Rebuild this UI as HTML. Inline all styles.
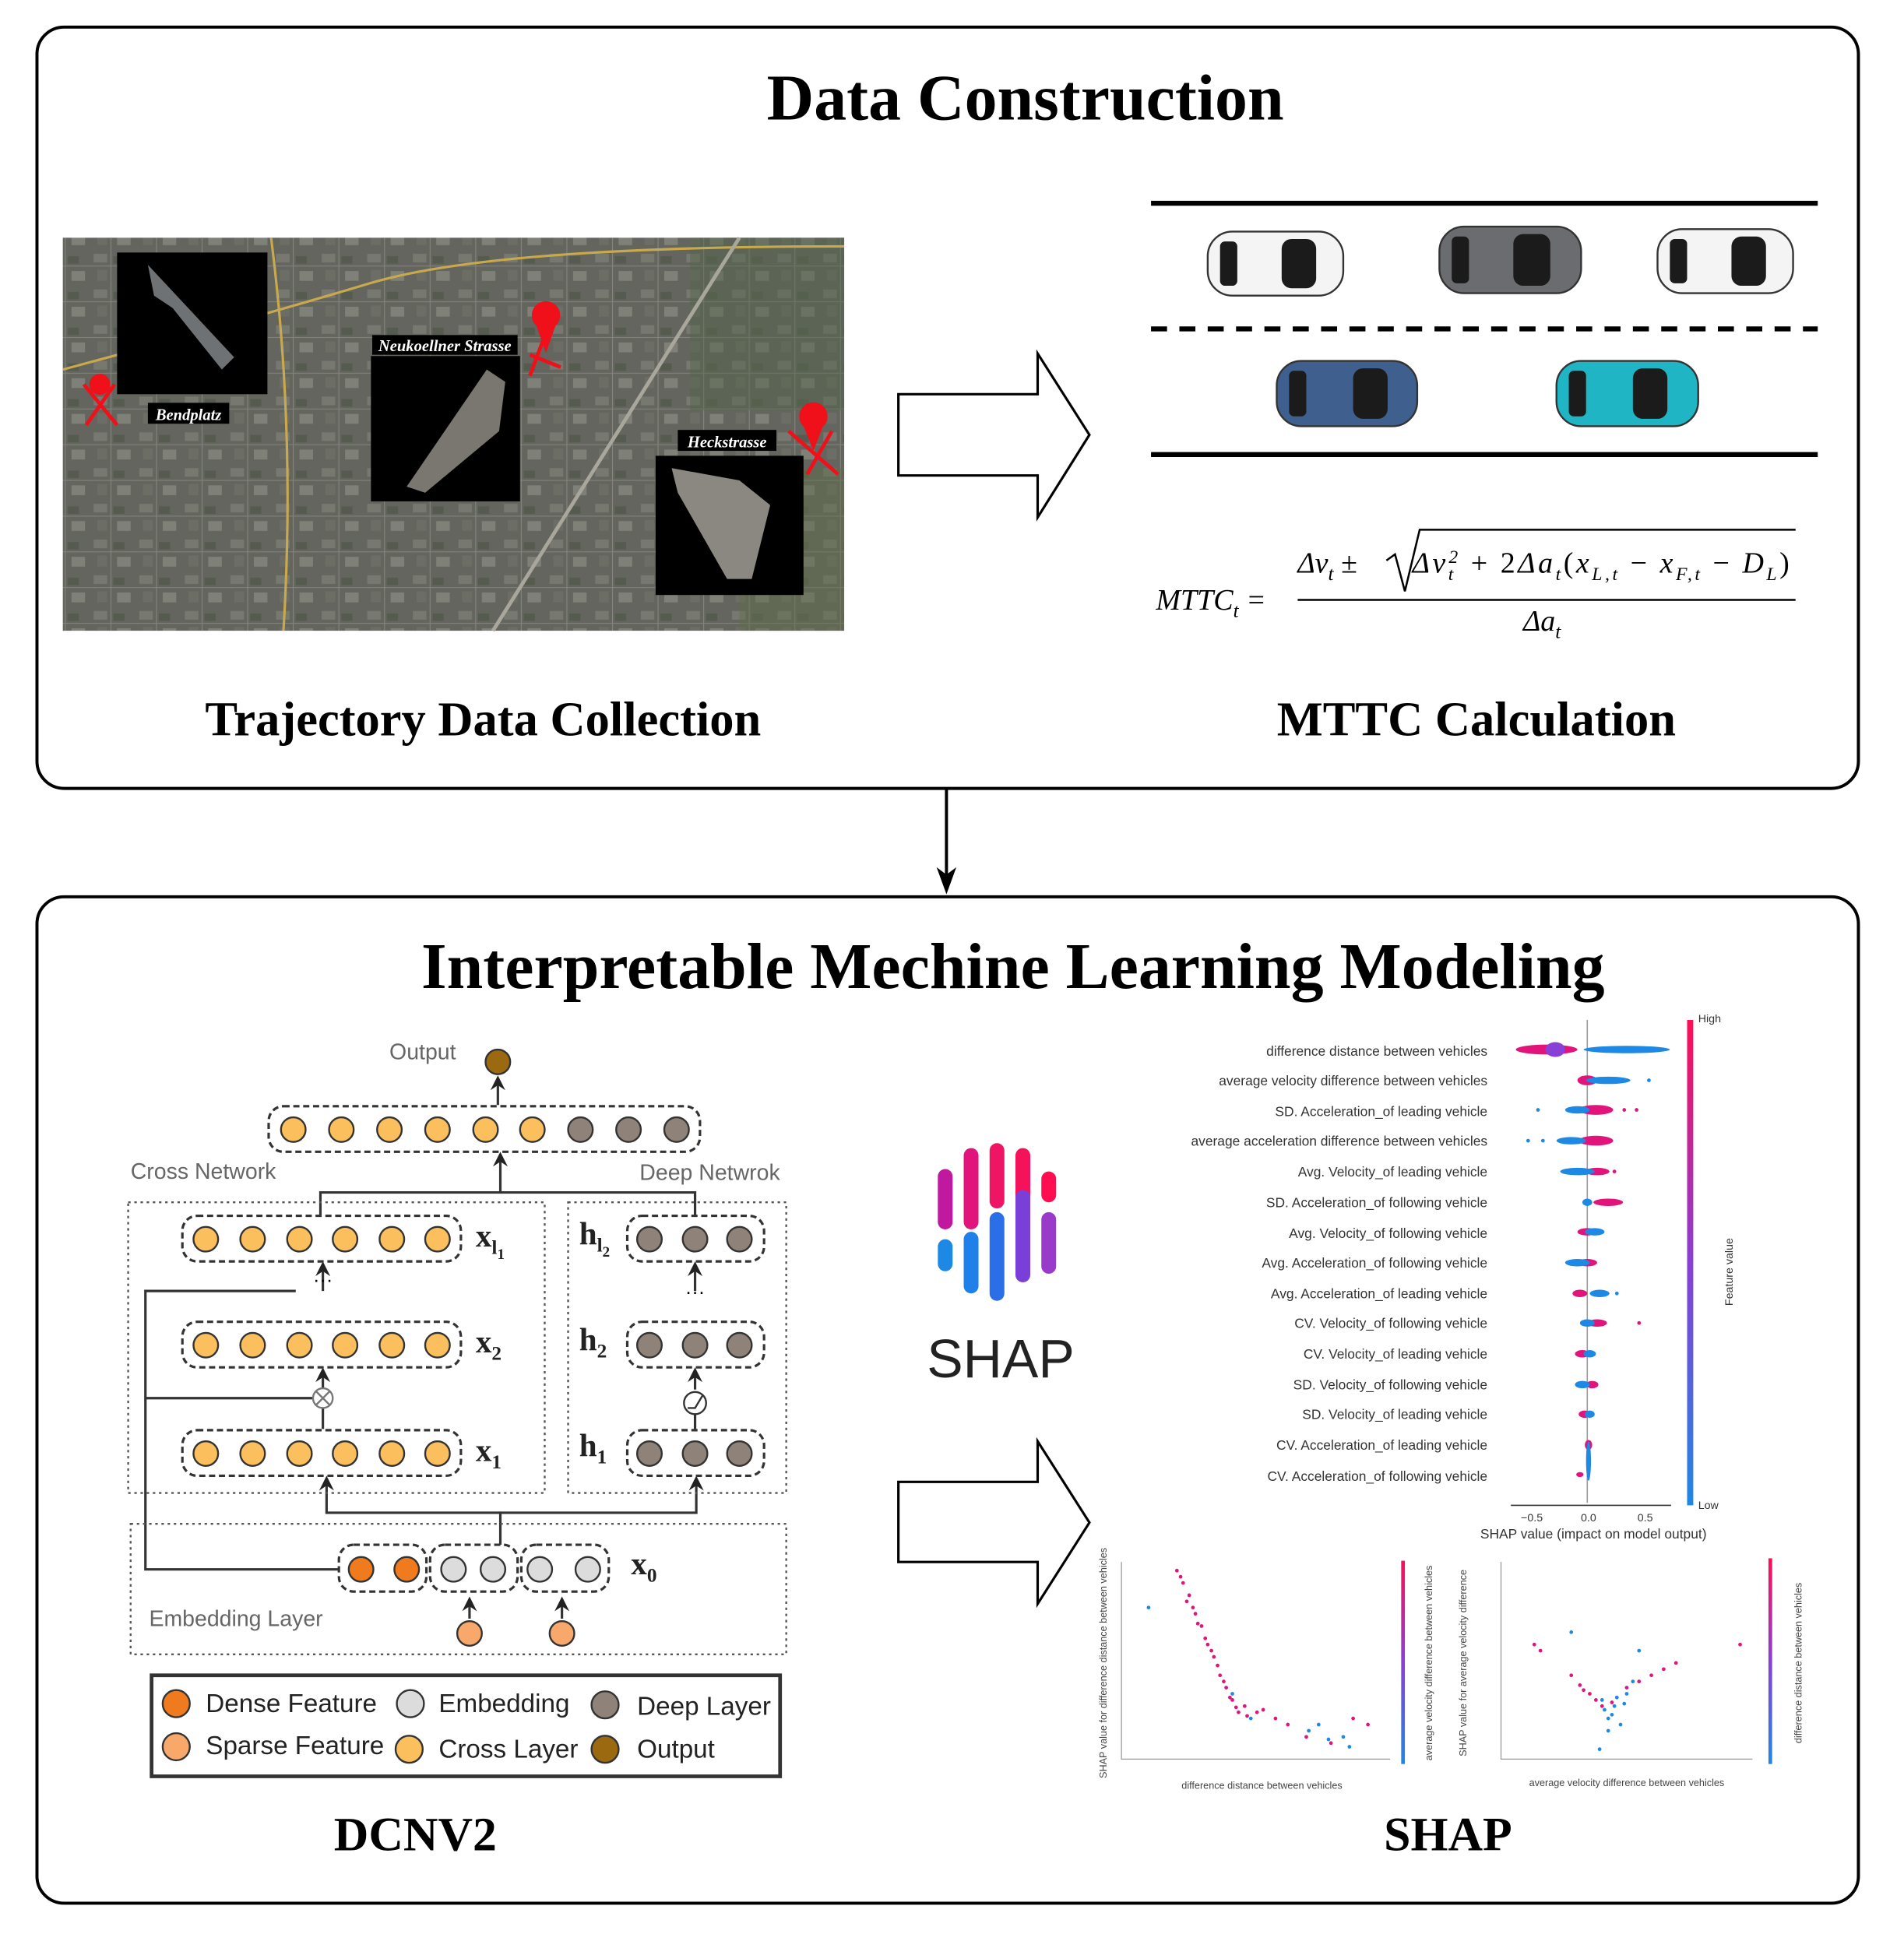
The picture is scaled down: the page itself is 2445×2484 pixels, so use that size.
<!DOCTYPE html>
<html><head><meta charset="utf-8"><style>
html,body{margin:0;padding:0;background:#fff}
svg{display:block}
.t{font-family:"Liberation Serif",serif;font-weight:bold}
.s{font-family:"Liberation Sans",sans-serif}
.m{font-family:"Liberation Serif",serif;font-style:italic}
</style></head><body>
<svg width="2445" height="2484" viewBox="0 0 1545 1570" preserveAspectRatio="none" xmlns="http://www.w3.org/2000/svg">
<defs>
<linearGradient id="cb" x1="0" y1="0" x2="0" y2="1"><stop offset="0" stop-color="#ff0d57"/><stop offset="0.5" stop-color="#8a3fd6"/><stop offset="1" stop-color="#1e88e5"/></linearGradient>
<pattern id="city" width="37" height="29" patternUnits="userSpaceOnUse">
<rect width="37" height="29" fill="#5f625b"/>
<rect x="2" y="3" width="11" height="7" fill="#7a7c75"/><rect x="18" y="5" width="9" height="6" fill="#4d5447"/>
<rect x="5" y="16" width="8" height="9" fill="#6b6e64"/><rect x="21" y="17" width="11" height="8" fill="#85877f"/>
<path d="M0 13H37M16 0V29" stroke="#8d8d86" stroke-width="0.7"/>
</pattern>
<marker id="sa" markerWidth="6" markerHeight="6" refX="5" refY="3" orient="auto"><path d="M0,0 L6,3 L0,6 L2,3Z" fill="#222"/></marker>
</defs>

<!-- TOP BOX -->
<rect x="30" y="22" width="1478" height="618" rx="22" fill="none" stroke="#000" stroke-width="2.5"/>
<text x="832" y="97" text-anchor="middle" class="t" font-size="53">Data Construction</text>

<!-- map -->
<rect x="51" y="193" width="634" height="319" fill="url(#city)"/>
<rect x="560" y="193" width="125" height="140" fill="#4d6243" opacity="0.5"/>
<rect x="600" y="380" width="85" height="132" fill="#5c6b43" opacity="0.5"/>
<rect x="51" y="193" width="634" height="319" fill="#707068" opacity="0.25"/>
<path d="M51 300 Q200 260 300 230 T685 200" stroke="#c9a94d" stroke-width="2" fill="none"/>
<path d="M220 193 Q240 350 230 512" stroke="#c9a94d" stroke-width="2" fill="none"/>
<path d="M400 512 L600 193" stroke="#a9a69c" stroke-width="3" fill="none"/>
<rect x="95" y="205" width="122" height="115" fill="#000"/>
<path d="M120 215 L190 290 L180 300 L140 250 L125 240Z" fill="#6f7275"/>
<rect x="301" y="289" width="121" height="118" fill="#000"/>
<path d="M330 395 L395 300 L410 310 L405 350 L345 400Z" fill="#7a7770"/>
<rect x="532" y="370" width="120" height="113" fill="#000"/>
<path d="M545 380 L600 390 L625 410 L610 470 L590 470 L550 400Z" fill="#8a8880"/>
<rect x="302" y="272" width="118" height="16" fill="#000"/><text x="361" y="285" text-anchor="middle" class="m" fill="#fff" font-size="13" font-weight="bold">Neukoellner Strasse</text>
<rect x="120" y="327" width="66" height="17" fill="#000"/><text x="153" y="341" text-anchor="middle" class="m" fill="#fff" font-size="13" font-weight="bold">Bendplatz</text>
<rect x="550" y="349" width="80" height="17" fill="#000"/><text x="590" y="363" text-anchor="middle" class="m" fill="#fff" font-size="13" font-weight="bold">Heckstrasse</text>
<g fill="#f0101a" stroke="#f0101a" stroke-width="3">
<circle cx="443" cy="256" r="10"/><path d="M436 262 L443 282 L450 262Z"/><path d="M443 270 L430 305 M430 288 L455 298" fill="none"/>
<circle cx="660" cy="338" r="10"/><path d="M653 344 L660 362 L667 344Z"/><path d="M640 350 L680 385 M675 350 L655 385" fill="none"/>
<circle cx="81" cy="312" r="7"/><path d="M68 312 L95 345 M93 312 L70 345" fill="none"/>
</g>

<path d="M729 320 H842 V287 L884 353 L842 420 V386 H729Z" fill="#fff" stroke="#000" stroke-width="2"/>

<!-- road -->
<line x1="934" y1="165" x2="1475" y2="165" stroke="#000" stroke-width="4"/>
<line x1="934" y1="267" x2="1475" y2="267" stroke="#000" stroke-width="4" stroke-dasharray="13 10"/>
<line x1="934" y1="369" x2="1475" y2="369" stroke="#000" stroke-width="4"/>
<g stroke="#333" stroke-width="1.5">
<rect x="980" y="188" width="110" height="52" rx="20" fill="#f4f4f4"/>
<rect x="1168" y="184" width="115" height="54" rx="20" fill="#6a6c70"/>
<rect x="1345" y="186" width="110" height="52" rx="20" fill="#f4f4f4"/>
<rect x="1036" y="293" width="114" height="53" rx="20" fill="#3f5f8f"/>
<rect x="1263" y="293" width="115" height="53" rx="20" fill="#1fb5c4"/>
</g>
<g fill="#1b1b1b">
<rect x="990" y="196" width="14" height="36" rx="4"/><rect x="1040" y="194" width="28" height="40" rx="8"/>
<rect x="1178" y="192" width="14" height="38" rx="4"/><rect x="1228" y="190" width="30" height="42" rx="8"/>
<rect x="1355" y="194" width="14" height="36" rx="4"/><rect x="1405" y="192" width="28" height="40" rx="8"/>
<rect x="1046" y="301" width="14" height="37" rx="4"/><rect x="1098" y="299" width="28" height="41" rx="8"/>
<rect x="1273" y="301" width="14" height="37" rx="4"/><rect x="1325" y="299" width="28" height="41" rx="8"/>
</g>

<!-- formula -->
<text x="938" y="495" class="m" font-size="24">MTTC<tspan font-size="16" dy="6">t</tspan><tspan dy="-6"> =</tspan></text>
<text x="1053" y="465" class="m" font-size="24">Δv<tspan font-size="16" dy="6">t</tspan><tspan dy="-6" font-style="normal">  ±</tspan></text>
<path d="M1125 455 L1132 450 L1140 480 L1152 430 H1457" fill="none" stroke="#000" stroke-width="1.6"/>
<text x="1146" y="465" class="m" font-size="24" textLength="306">Δv<tspan font-size="15" dy="6">t</tspan><tspan font-size="15" dy="-14" dx="-6">2</tspan><tspan dy="8" font-style="normal"> + 2</tspan>Δa<tspan font-size="15" dy="6">t</tspan><tspan dy="-6" font-style="normal">(</tspan>x<tspan font-size="15" dy="6">L,t</tspan><tspan dy="-6" font-style="normal"> − </tspan>x<tspan font-size="15" dy="6">F,t</tspan><tspan dy="-6" font-style="normal"> − </tspan>D<tspan font-size="15" dy="6">L</tspan><tspan dy="-6" font-style="normal">)</tspan></text>
<line x1="1053" y1="487" x2="1457" y2="487" stroke="#000" stroke-width="1.6"/>
<text x="1236" y="512" class="m" font-size="24">Δa<tspan font-size="16" dy="6">t</tspan></text>

<text x="392" y="597" text-anchor="middle" class="t" font-size="39.5">Trajectory Data Collection</text>
<text x="1198" y="597" text-anchor="middle" class="t" font-size="39.5">MTTC Calculation</text>

<line x1="768" y1="640" x2="768" y2="712" stroke="#000" stroke-width="2.5"/>
<path d="M760 704 L768 726 L776 704 L768 710Z" fill="#000"/>

<!-- BOTTOM BOX -->
<rect x="30" y="728" width="1478" height="817" rx="22" fill="none" stroke="#000" stroke-width="2.5"/>
<text x="822" y="802" text-anchor="middle" class="t" font-size="53">Interpretable Mechine Learning Modeling</text>

<!-- DCN -->
<g class="s" fill="#666" font-size="18">
<text x="343" y="860" text-anchor="middle">Output</text>
<text x="106" y="957">Cross Network</text>
<text x="633" y="958" text-anchor="end">Deep Netwrok</text>
<text x="121" y="1320">Embedding Layer</text>
</g>
<circle cx="404" cy="862" r="10" fill="#9b6a10" stroke="#333" stroke-width="1.5"/>
<g stroke="#333" stroke-width="2" fill="none">
<line x1="404" y1="897" x2="404" y2="875" marker-end="url(#sa)"/>
<line x1="406" y1="968" x2="406" y2="937" marker-end="url(#sa)"/>
<path d="M260 987 V968 H564 V987"/>
<path d="M240 1048 H118 V1274 H275"/>
<path d="M118 1135 H255"/>
<line x1="262" y1="1048" x2="262" y2="1026" marker-end="url(#sa)"/>
<line x1="262" y1="1128" x2="262" y2="1112" marker-end="url(#sa)"/>
<line x1="262" y1="1143" x2="262" y2="1160"/>
<line x1="564" y1="1048" x2="564" y2="1026" marker-end="url(#sa)"/>
<line x1="564" y1="1128" x2="564" y2="1112" marker-end="url(#sa)"/>
<line x1="564" y1="1148" x2="564" y2="1160"/>
<path d="M406 1254 V1228 H565 V1200" marker-end="url(#sa)"/>
<path d="M406 1228 H265 V1200" marker-end="url(#sa)"/>
<line x1="381" y1="1314" x2="381" y2="1298" marker-end="url(#sa)"/>
<line x1="456" y1="1314" x2="456" y2="1298" marker-end="url(#sa)"/>
</g>
<text x="262" y="1044" text-anchor="middle" font-size="16" class="s">···</text>
<text x="564" y="1054" text-anchor="middle" font-size="16" class="s">···</text>
<circle cx="262" cy="1135" r="8" fill="#fff" stroke="#777" stroke-width="1.5"/>
<path d="M256 1129 L268 1141 M268 1129 L256 1141" stroke="#777" stroke-width="1.5"/>
<circle cx="564" cy="1139" r="9" fill="#fff" stroke="#333" stroke-width="1.5"/>
<path d="M558 1143 L564 1143 L570 1133" stroke="#333" fill="none" stroke-width="1.5"/>
<g fill="none" stroke="#555" stroke-width="1.5" stroke-dasharray="2 3">
<rect x="104" y="976" width="338" height="236"/>
<rect x="461" y="976" width="177" height="236"/>
<rect x="106" y="1237" width="532" height="106"/>
</g>
<g fill="none" stroke="#333" stroke-width="2" stroke-dasharray="5 3">
<rect x="218" y="898" width="350" height="37" rx="12"/>
<rect x="148" y="987" width="226" height="37" rx="12"/>
<rect x="148" y="1073" width="226" height="37" rx="12"/>
<rect x="148" y="1161" width="226" height="37" rx="12"/>
<rect x="509" y="987" width="111" height="37" rx="12"/>
<rect x="509" y="1073" width="111" height="37" rx="12"/>
<rect x="509" y="1161" width="111" height="37" rx="12"/>
<rect x="275" y="1254" width="71" height="38" rx="12"/>
<rect x="349" y="1254" width="71" height="38" rx="12"/>
<rect x="423" y="1254" width="71" height="38" rx="12"/>
</g>
<g stroke="#333" stroke-width="1.5">
<g fill="#fbbf5d">
<circle cx="238" cy="917" r="10"/><circle cx="277" cy="917" r="10"/><circle cx="316" cy="917" r="10"/><circle cx="355" cy="917" r="10"/><circle cx="394" cy="917" r="10"/><circle cx="432" cy="917" r="10"/>
<circle cx="167" cy="1006" r="10"/><circle cx="205" cy="1006" r="10"/><circle cx="243" cy="1006" r="10"/><circle cx="280" cy="1006" r="10"/><circle cx="318" cy="1006" r="10"/><circle cx="355" cy="1006" r="10"/>
<circle cx="167" cy="1092" r="10"/><circle cx="205" cy="1092" r="10"/><circle cx="243" cy="1092" r="10"/><circle cx="280" cy="1092" r="10"/><circle cx="318" cy="1092" r="10"/><circle cx="355" cy="1092" r="10"/>
<circle cx="167" cy="1180" r="10"/><circle cx="205" cy="1180" r="10"/><circle cx="243" cy="1180" r="10"/><circle cx="280" cy="1180" r="10"/><circle cx="318" cy="1180" r="10"/><circle cx="355" cy="1180" r="10"/>
</g>
<g fill="#8f8278">
<circle cx="471" cy="917" r="10"/><circle cx="510" cy="917" r="10"/><circle cx="549" cy="917" r="10"/>
<circle cx="527" cy="1006" r="10"/><circle cx="564" cy="1006" r="10"/><circle cx="600" cy="1006" r="10"/>
<circle cx="527" cy="1092" r="10"/><circle cx="564" cy="1092" r="10"/><circle cx="600" cy="1092" r="10"/>
<circle cx="527" cy="1180" r="10"/><circle cx="564" cy="1180" r="10"/><circle cx="600" cy="1180" r="10"/>
</g>
<circle cx="293" cy="1274" r="10" fill="#f07b1e"/><circle cx="330" cy="1274" r="10" fill="#f07b1e"/>
<g fill="#dcdcdc"><circle cx="368" cy="1274" r="10"/><circle cx="400" cy="1274" r="10"/><circle cx="438" cy="1274" r="10"/><circle cx="477" cy="1274" r="10"/></g>
<circle cx="381" cy="1326" r="10" fill="#f7a86a"/><circle cx="456" cy="1326" r="10" fill="#f7a86a"/>
</g>
<g class="t" font-size="26" font-weight="bold" fill="#222">
<text x="386" y="1012">x<tspan font-size="16" dy="6">l</tspan><tspan font-size="12" dy="4">1</tspan></text>
<text x="386" y="1098">x<tspan font-size="16" dy="6">2</tspan></text>
<text x="386" y="1186">x<tspan font-size="16" dy="6">1</tspan></text>
<text x="470" y="1010">h<tspan font-size="16" dy="6">l</tspan><tspan font-size="12" dy="4">2</tspan></text>
<text x="470" y="1096">h<tspan font-size="16" dy="6">2</tspan></text>
<text x="470" y="1182">h<tspan font-size="16" dy="6">1</tspan></text>
<text x="512" y="1278">x<tspan font-size="16" dy="6">0</tspan></text>
</g>
<rect x="123" y="1360" width="510" height="82" fill="#fff" stroke="#333" stroke-width="3"/>
<g stroke="#333" stroke-width="1.5">
<circle cx="143" cy="1383" r="11" fill="#f07b1e"/><circle cx="143" cy="1418" r="11" fill="#f7a86a"/>
<circle cx="333" cy="1383" r="11" fill="#dcdcdc"/><circle cx="332" cy="1420" r="11" fill="#fbbf5d"/>
<circle cx="491" cy="1384" r="11" fill="#8f8278"/><circle cx="491" cy="1420" r="11" fill="#9b6a10"/>
</g>
<g class="s" font-size="21" fill="#222">
<text x="167" y="1390">Dense Feature</text><text x="167" y="1424">Sparse Feature</text>
<text x="356" y="1390">Embedding</text><text x="356" y="1427">Cross Layer</text>
<text x="517" y="1392">Deep Layer</text><text x="517" y="1427">Output</text>
</g>
<text x="337" y="1502" text-anchor="middle" class="t" font-size="39">DCNV2</text>

<!-- SHAP logo -->
<g stroke-linecap="round" stroke-width="12">
<line x1="767" y1="955" x2="767" y2="992" stroke="#c0189e"/>
<line x1="788" y1="938" x2="788" y2="992" stroke="#e0147a"/>
<line x1="809" y1="934" x2="809" y2="975" stroke="#ee1565"/>
<line x1="830" y1="938" x2="830" y2="972" stroke="#f5125a"/>
<line x1="851" y1="957" x2="851" y2="970" stroke="#ff0d50"/>
<line x1="767" y1="1012" x2="767" y2="1026" stroke="#1e88e5"/>
<line x1="788" y1="1006" x2="788" y2="1044" stroke="#1e80e8"/>
<line x1="809" y1="990" x2="809" y2="1050" stroke="#2a6ee8"/>
<line x1="830" y1="972" x2="830" y2="1035" stroke="#7a3fd8"/>
<line x1="851" y1="990" x2="851" y2="1028" stroke="#9a3acb"/>
</g>
<text x="812" y="1118" text-anchor="middle" class="s" font-size="44" fill="#222" font-weight="300">SHAP</text>

<path d="M729 1203 H842 V1170 L884 1236 L842 1302 V1268 H729Z" fill="#fff" stroke="#000" stroke-width="2"/>

<!-- summary plot -->
<g class="s" font-size="11" fill="#333" text-anchor="end">
<text x="1207" y="857">difference distance between vehicles</text>
<text x="1207" y="881">average velocity difference between vehicles</text>
<text x="1207" y="906">SD. Acceleration_of leading vehicle</text>
<text x="1207" y="930">average acceleration difference between vehicles</text>
<text x="1207" y="955">Avg. Velocity_of leading vehicle</text>
<text x="1207" y="980">SD. Acceleration_of following vehicle</text>
<text x="1207" y="1005">Avg. Velocity_of following vehicle</text>
<text x="1207" y="1029">Avg. Acceleration_of following vehicle</text>
<text x="1207" y="1054">Avg. Acceleration_of leading vehicle</text>
<text x="1207" y="1078">CV. Velocity_of following vehicle</text>
<text x="1207" y="1103">CV. Velocity_of leading vehicle</text>
<text x="1207" y="1128">SD. Velocity_of following vehicle</text>
<text x="1207" y="1152">SD. Velocity_of leading vehicle</text>
<text x="1207" y="1177">CV. Acceleration_of leading vehicle</text>
<text x="1207" y="1202">CV. Acceleration_of following vehicle</text>
</g>
<line x1="1288" y1="828" x2="1288" y2="1220" stroke="#999" stroke-width="1"/>
<line x1="1226" y1="1222" x2="1356" y2="1222" stroke="#333" stroke-width="1"/>
<g fill="#e0147a">
<ellipse cx="1255" cy="852" rx="25" ry="4"/><ellipse cx="1288" cy="877" rx="8" ry="4"/><ellipse cx="1295" cy="901" rx="14" ry="4"/><ellipse cx="1295" cy="926" rx="14" ry="4"/>
<ellipse cx="1296" cy="951" rx="10" ry="3"/><ellipse cx="1305" cy="976" rx="12" ry="3"/><ellipse cx="1288" cy="1000" rx="8" ry="3"/><ellipse cx="1288" cy="1025" rx="8" ry="3"/>
<ellipse cx="1282" cy="1050" rx="6" ry="3"/><ellipse cx="1296" cy="1074" rx="8" ry="3"/><ellipse cx="1284" cy="1099" rx="6" ry="3"/><ellipse cx="1292" cy="1124" rx="5" ry="3"/>
<ellipse cx="1286" cy="1148" rx="5" ry="3"/><ellipse cx="1289" cy="1173" rx="3" ry="4"/><ellipse cx="1282" cy="1197" rx="3" ry="2"/>
<circle cx="1318" cy="901" r="1.5"/><circle cx="1328" cy="901" r="1.5"/><circle cx="1312" cy="976" r="1.5"/><circle cx="1330" cy="1074" r="1.5"/><circle cx="1310" cy="951" r="1.5"/><circle cx="1320" cy="877" r="1.5"/>
</g>
<g fill="#1e88e5">
<ellipse cx="1320" cy="852" rx="35" ry="3"/><ellipse cx="1305" cy="877" rx="18" ry="3"/><ellipse cx="1280" cy="901" rx="10" ry="3"/><ellipse cx="1275" cy="926" rx="12" ry="3"/>
<ellipse cx="1280" cy="951" rx="14" ry="3"/><ellipse cx="1288" cy="976" rx="4" ry="3"/><ellipse cx="1294" cy="1000" rx="8" ry="3"/><ellipse cx="1280" cy="1025" rx="10" ry="3"/>
<ellipse cx="1298" cy="1050" rx="8" ry="3"/><ellipse cx="1288" cy="1074" rx="6" ry="3"/><ellipse cx="1290" cy="1099" rx="5" ry="3"/><ellipse cx="1284" cy="1124" rx="6" ry="3"/>
<ellipse cx="1290" cy="1148" rx="4" ry="3"/><ellipse cx="1289" cy="1186" rx="2" ry="16"/>
<circle cx="1240" cy="926" r="1.5"/><circle cx="1252" cy="926" r="1.5"/><circle cx="1248" cy="901" r="1.5"/><circle cx="1312" cy="1050" r="1.5"/><circle cx="1338" cy="877" r="1.5"/><circle cx="1345" cy="852" r="2"/>
</g>
<ellipse cx="1262" cy="852" rx="8" ry="6" fill="#8a3fd6"/>
<rect x="1369" y="828" width="5" height="394" fill="url(#cb)"/>
<g class="s" font-size="9" fill="#333">
<text x="1378" y="830">High</text><text x="1378" y="1225">Low</text>
<text x="1406" y="1060" transform="rotate(-90 1406 1060)">Feature value</text>
<text x="1243" y="1235" text-anchor="middle">−0.5</text><text x="1289" y="1235" text-anchor="middle">0.0</text><text x="1335" y="1235" text-anchor="middle">0.5</text>
<text x="1293" y="1249" text-anchor="middle" font-size="11">SHAP value (impact on model output)</text>
</g>

<!-- dependence plots -->
<g stroke="#999" stroke-width="0.8" fill="none">
<path d="M910 1268 V1428 H1128"/>
<path d="M1218 1268 V1428 H1422"/>
</g>
<rect x="1137" y="1267" width="3" height="165" fill="url(#cb)"/>
<rect x="1435" y="1265" width="3" height="167" fill="url(#cb)"/>
<g fill="#e0147a">
<circle cx="955" cy="1275" r="1.5"/><circle cx="960" cy="1285" r="1.5"/><circle cx="965" cy="1295" r="1.5"/><circle cx="970" cy="1310" r="1.5"/><circle cx="975" cy="1320" r="1.5"/><circle cx="980" cy="1335" r="1.5"/><circle cx="985" cy="1345" r="1.5"/><circle cx="990" cy="1360" r="1.5"/><circle cx="995" cy="1370" r="1.5"/><circle cx="1000" cy="1380" r="1.5"/><circle cx="1010" cy="1385" r="1.5"/><circle cx="1020" cy="1390" r="1.5"/><circle cx="1035" cy="1395" r="1.5"/><circle cx="1060" cy="1410" r="1.5"/><circle cx="1080" cy="1415" r="1.5"/><circle cx="963" cy="1300" r="1.5"/><circle cx="978" cy="1330" r="1.5"/><circle cx="1005" cy="1390" r="1.5"/>
<circle cx="958" cy="1280" r="1.5"/><circle cx="968" cy="1305" r="1.5"/><circle cx="972" cy="1318" r="1.5"/><circle cx="983" cy="1340" r="1.5"/><circle cx="988" cy="1352" r="1.5"/><circle cx="993" cy="1365" r="1.5"/><circle cx="998" cy="1378" r="1.5"/><circle cx="1003" cy="1386" r="1.5"/><circle cx="1012" cy="1393" r="1.5"/><circle cx="1025" cy="1388" r="1.5"/><circle cx="1045" cy="1400" r="1.5"/><circle cx="1098" cy="1395" r="1.5"/><circle cx="1110" cy="1400" r="1.5"/>
<circle cx="1250" cy="1340" r="1.5"/><circle cx="1275" cy="1360" r="1.5"/><circle cx="1290" cy="1375" r="1.5"/><circle cx="1300" cy="1385" r="1.5"/><circle cx="1320" cy="1370" r="1.5"/><circle cx="1340" cy="1360" r="1.5"/><circle cx="1360" cy="1350" r="1.5"/><circle cx="1412" cy="1335" r="1.5"/><circle cx="1245" cy="1335" r="1.5"/>
<circle cx="1282" cy="1368" r="1.5"/><circle cx="1295" cy="1380" r="1.5"/><circle cx="1308" cy="1382" r="1.5"/><circle cx="1330" cy="1365" r="1.5"/><circle cx="1350" cy="1355" r="1.5"/><circle cx="1285" cy="1372" r="1.5"/>
</g>
<g fill="#1e88e5">
<circle cx="932" cy="1305" r="1.5"/><circle cx="1000" cy="1375" r="1.5"/><circle cx="1015" cy="1395" r="1.5"/><circle cx="1070" cy="1400" r="1.5"/><circle cx="1090" cy="1410" r="1.5"/><circle cx="1095" cy="1418" r="1.5"/>
<circle cx="1300" cy="1380" r="1.5"/><circle cx="1305" cy="1395" r="1.5"/><circle cx="1310" cy="1385" r="1.5"/><circle cx="1315" cy="1400" r="1.5"/><circle cx="1320" cy="1375" r="1.5"/><circle cx="1325" cy="1365" r="1.5"/><circle cx="1298" cy="1420" r="1.5"/><circle cx="1275" cy="1325" r="1.5"/><circle cx="1330" cy="1340" r="1.5"/>
<circle cx="1302" cy="1388" r="1.5"/><circle cx="1308" cy="1392" r="1.5"/><circle cx="1312" cy="1378" r="1.5"/><circle cx="1318" cy="1383" r="1.5"/><circle cx="1305" cy="1405" r="1.5"/><circle cx="1078" cy="1412" r="1.5"/><circle cx="1062" cy="1405" r="1.5"/>
</g>
<g class="s" font-size="8" fill="#444">
<text x="1024" y="1452" text-anchor="middle">difference distance between vehicles</text>
<text x="1320" y="1450" text-anchor="middle">average velocity difference between vehicles</text>
<text x="898" y="1350" text-anchor="middle" transform="rotate(-90 898 1350)">SHAP value for difference distance between vehicles</text>
<text x="1190" y="1350" text-anchor="middle" transform="rotate(-90 1190 1350)">SHAP value for average velocity difference</text>
<text x="1162" y="1350" text-anchor="middle" transform="rotate(-90 1162 1350)">average velocity difference between vehicles</text>
<text x="1462" y="1350" text-anchor="middle" transform="rotate(-90 1462 1350)">difference distance between vehicles</text>
</g>
<text x="1175" y="1502" text-anchor="middle" class="t" font-size="39">SHAP</text>
</svg>
</body></html>
